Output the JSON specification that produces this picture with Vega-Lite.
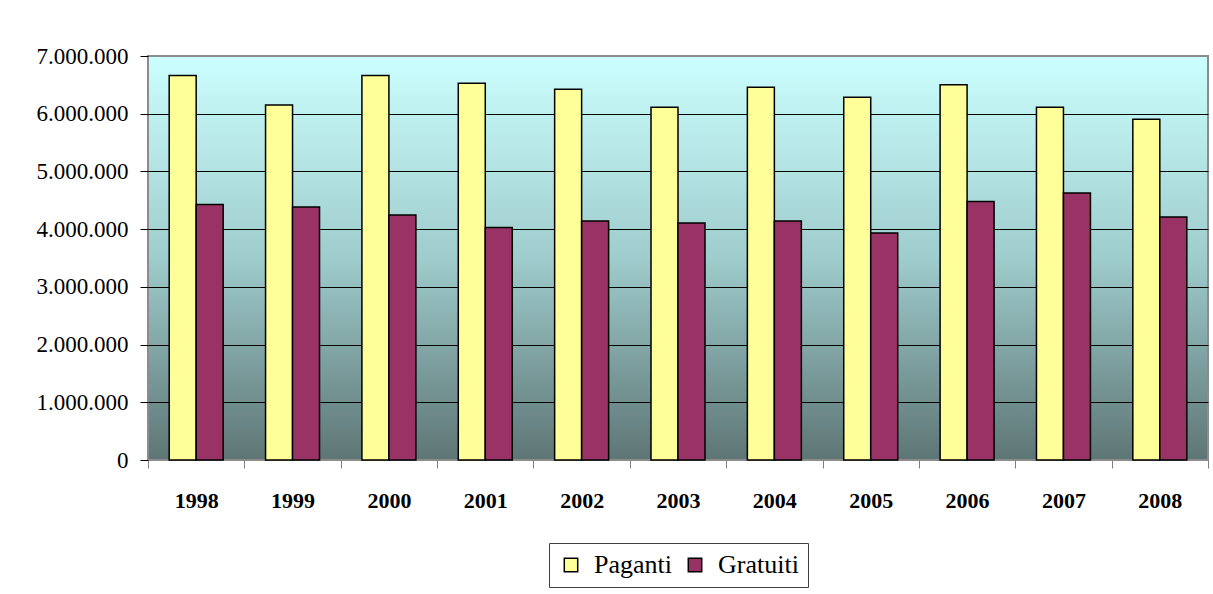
{
  "$schema": "https://vega.github.io/schema/vega-lite/v6.json",
  "width": 1060,
  "height": 404,
  "autosize": {"type": "none"},
  "padding": {"left": 148, "top": 56, "right": 5, "bottom": 134},
  "background": "white",
  "data": {
    "values": [
      {"anno": "1998", "tipo": "Paganti", "visitatori": 6660000},
      {"anno": "1998", "tipo": "Gratuiti", "visitatori": 4425000},
      {"anno": "1999", "tipo": "Paganti", "visitatori": 6150000},
      {"anno": "1999", "tipo": "Gratuiti", "visitatori": 4385000},
      {"anno": "2000", "tipo": "Paganti", "visitatori": 6660000},
      {"anno": "2000", "tipo": "Gratuiti", "visitatori": 4245000},
      {"anno": "2001", "tipo": "Paganti", "visitatori": 6530000},
      {"anno": "2001", "tipo": "Gratuiti", "visitatori": 4030000},
      {"anno": "2002", "tipo": "Paganti", "visitatori": 6425000},
      {"anno": "2002", "tipo": "Gratuiti", "visitatori": 4140000},
      {"anno": "2003", "tipo": "Paganti", "visitatori": 6110000},
      {"anno": "2003", "tipo": "Gratuiti", "visitatori": 4105000},
      {"anno": "2004", "tipo": "Paganti", "visitatori": 6460000},
      {"anno": "2004", "tipo": "Gratuiti", "visitatori": 4140000},
      {"anno": "2005", "tipo": "Paganti", "visitatori": 6285000},
      {"anno": "2005", "tipo": "Gratuiti", "visitatori": 3935000},
      {"anno": "2006", "tipo": "Paganti", "visitatori": 6500000},
      {"anno": "2006", "tipo": "Gratuiti", "visitatori": 4480000},
      {"anno": "2007", "tipo": "Paganti", "visitatori": 6110000},
      {"anno": "2007", "tipo": "Gratuiti", "visitatori": 4625000},
      {"anno": "2008", "tipo": "Paganti", "visitatori": 5905000},
      {"anno": "2008", "tipo": "Gratuiti", "visitatori": 4210000}
    ]
  },
  "mark": {"type": "bar", "stroke": "black", "strokeWidth": 1.5},
  "encoding": {
    "x": {
      "field": "anno",
      "type": "nominal",
      "sort": null,
      "scale": {"paddingInner": 0, "paddingOuter": 0},
      "axis": {
        "title": null,
        "labelAngle": 0,
        "tickBand": "extent",
        "labelFont": "'Liberation Serif', 'Times New Roman', serif",
        "labelFontSize": 22,
        "labelFontWeight": "bold",
        "labelColor": "black",
        "labelPadding": 22,
        "tickSize": 8,
        "tickColor": "#808080",
        "domain": false,
        "grid": false
      }
    },
    "xOffset": {
      "field": "tipo",
      "type": "nominal",
      "sort": ["Paganti", "Gratuiti"],
      "scale": {"paddingInner": 0, "paddingOuter": 0.785}
    },
    "y": {
      "field": "visitatori",
      "type": "quantitative",
      "scale": {"domain": [0, 7000000], "nice": false},
      "axis": {
        "title": null,
        "values": [0, 1000000, 2000000, 3000000, 4000000, 5000000, 6000000, 7000000],
        "format": ",d",
        "labelFont": "'Liberation Serif', 'Times New Roman', serif",
        "labelFontSize": 23,
        "labelFontWeight": "normal",
        "labelColor": "black",
        "labelPadding": 12,
        "tickSize": 8,
        "tickColor": "black",
        "domain": false,
        "gridColor": "black",
        "gridWidth": 1,
        "gridOpacity": {"condition": {"test": "datum.value == 7000000 || datum.value == 0", "value": 0}, "value": 1}
      }
    },
    "color": {
      "field": "tipo",
      "type": "nominal",
      "scale": {"domain": ["Paganti", "Gratuiti"], "range": ["#FFFF99", "#993366"]},
      "legend": {
        "title": null,
        "orient": "none",
        "legendX": 401,
        "legendY": 487,
        "direction": "horizontal",
        "symbolType": "square",
        "symbolSize": 180,
        "symbolStrokeColor": "black",
        "symbolStrokeWidth": 1.5,
        "symbolOpacity": 1,
        "labelFont": "'Liberation Serif', 'Times New Roman', serif",
        "labelFontSize": 26,
        "labelColor": "black",
        "labelOffset": 10,
        "columnPadding": 10,
        "strokeColor": "#404040",
        "padding": 9
      }
    }
  },
  "config": {
    "font": "'Liberation Serif', 'Times New Roman', serif",
    "locale": {"number": {"decimal": ",", "thousands": ".", "grouping": [3], "currency": ["€", ""]}},
    "view": {
      "stroke": "#8C8C8C",
      "strokeWidth": 2,
      "fill": {
        "gradient": "linear",
        "x1": 0, "y1": 0, "x2": 0, "y2": 1,
        "stops": [
          {"offset": 0, "color": "#CCFFFF"},
          {"offset": 0.5, "color": "#9FCCCC"},
          {"offset": 1, "color": "#5E7575"}
        ]
      }
    }
  }
}
